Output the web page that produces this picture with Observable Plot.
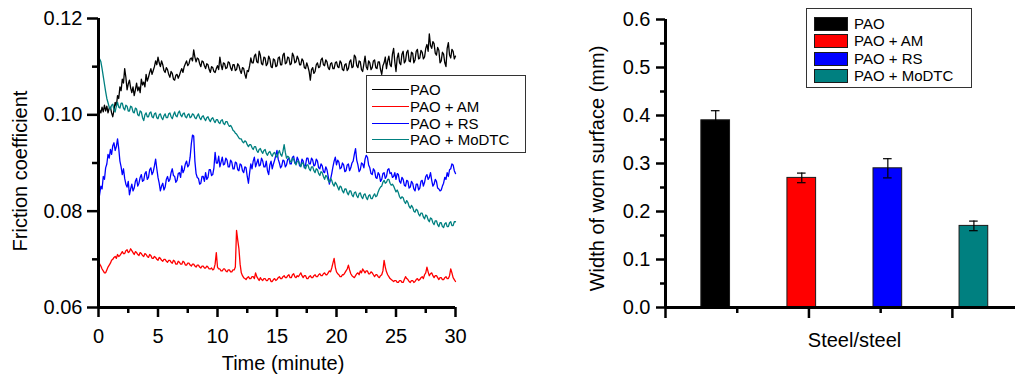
<!DOCTYPE html>
<html><head><meta charset="utf-8">
<script src="https://cdn.jsdelivr.net/npm/d3@7"></script>
<script src="https://cdn.jsdelivr.net/npm/@observablehq/plot@0.6"></script>
<style>
body{margin:0;background:#fff;font-family:"Liberation Sans",Arial,sans-serif;}
#wrap{position:relative;width:1015px;height:377px;overflow:hidden;background:#fff;}
#left{position:absolute;left:0;top:0;}
#right{position:absolute;left:540px;top:0;}
.legend{position:absolute;background:#fff;border:1px solid #333;box-sizing:border-box;font-size:15px;color:#000;line-height:1;}
.row{position:absolute;left:0;height:17px;display:flex;align-items:center;white-space:nowrap;}
</style></head>
<body><div id="wrap"><div id="left"></div><div id="right"></div></div>
<script>
// ---- data ----
const seriesNames = ["PAO", "PAO + AM", "PAO + RS", "PAO + MoDTC"];
const seriesColors = ["#000000", "#ff0000", "#0000ff", "#008080"];
const sampleStep = 0.1; // minutes between readings

const pao = [
0.0999,0.1010,0.1004,0.1016,0.1006,0.1020,0.1008,0.1018,0.1004,0.1014,
0.1016,0.1004,0.0996,0.1010,0.1026,0.1018,0.1040,0.1034,0.1058,0.1050,
0.1074,0.1066,0.1096,0.1078,0.1052,0.1064,0.1072,0.1056,0.1046,0.1058,
0.1040,0.1052,0.1066,0.1050,0.1058,0.1046,0.1074,0.1062,0.1068,0.1058,
0.1084,0.1070,0.1078,0.1088,0.1096,0.1084,0.1092,0.1100,0.1112,0.1104,
0.1120,0.1108,0.1100,0.1112,0.1104,0.1092,0.1088,0.1098,0.1094,0.1084,
0.1078,0.1090,0.1086,0.1074,0.1072,0.1082,0.1084,0.1076,0.1082,0.1090,
0.1096,0.1088,0.1100,0.1106,0.1112,0.1102,0.1106,0.1116,0.1118,0.1112,
0.1135,0.1120,0.1110,0.1118,0.1116,0.1106,0.1100,0.1112,0.1110,0.1102,
0.1096,0.1106,0.1104,0.1094,0.1088,0.1100,0.1098,0.1090,0.1088,0.1096,
0.1102,0.1094,0.1120,0.1104,0.1094,0.1108,0.1106,0.1096,0.1098,0.1110,
0.1108,0.1098,0.1092,0.1104,0.1104,0.1092,0.1094,0.1106,0.1102,0.1092,
0.1086,0.1098,0.1096,0.1084,0.1076,0.1092,0.1090,0.1102,0.1118,0.1108,
0.1108,0.1122,0.1126,0.1110,0.1108,0.1132,0.1124,0.1106,0.1104,0.1120,
0.1118,0.1102,0.1106,0.1122,0.1116,0.1100,0.1098,0.1116,0.1114,0.1100,
0.1102,0.1118,0.1120,0.1104,0.1104,0.1124,0.1128,0.1106,0.1108,0.1120,
0.1118,0.1104,0.1106,0.1128,0.1122,0.1108,0.1110,0.1122,0.1116,0.1104,
0.1104,0.1116,0.1112,0.1098,0.1096,0.1108,0.1100,0.1090,0.1072,0.1094,
0.1098,0.1086,0.1090,0.1104,0.1108,0.1098,0.1100,0.1114,0.1118,0.1104,
0.1102,0.1114,0.1110,0.1098,0.1094,0.1106,0.1108,0.1096,0.1096,0.1108,
0.1110,0.1100,0.1098,0.1112,0.1108,0.1094,0.1092,0.1104,0.1106,0.1092,
0.1096,0.1110,0.1114,0.1098,0.1100,0.1124,0.1120,0.1102,0.1098,0.1112,
0.1110,0.1094,0.1090,0.1106,0.1122,0.1100,0.1094,0.1112,0.1108,0.1094,
0.1098,0.1112,0.1114,0.1098,0.1096,0.1110,0.1110,0.1094,0.1084,0.1102,
0.1108,0.1120,0.1096,0.1112,0.1122,0.1104,0.1100,0.1126,0.1138,0.1110,
0.1090,0.1118,0.1128,0.1108,0.1104,0.1126,0.1132,0.1108,0.1112,0.1130,
0.1134,0.1112,0.1110,0.1130,0.1128,0.1108,0.1114,0.1132,0.1136,0.1116,
0.1118,0.1134,0.1130,0.1116,0.1120,0.1138,0.1146,0.1132,0.1168,0.1144,
0.1138,0.1152,0.1148,0.1128,0.1124,0.1140,0.1134,0.1108,0.1112,0.1130,
0.1126,0.1108,0.1100,0.1138,0.1150,0.1124,0.1118,0.1136,0.1132,0.1116,
0.1122];

const paoAM = [
0.0696,0.0690,0.0686,0.0680,0.0676,0.0672,0.0672,0.0678,0.0684,0.0688,
0.0692,0.0698,0.0700,0.0704,0.0706,0.0702,0.0710,0.0706,0.0708,0.0712,
0.0716,0.0712,0.0712,0.0718,0.0720,0.0714,0.0716,0.0722,0.0718,0.0714,
0.0710,0.0716,0.0714,0.0710,0.0708,0.0714,0.0712,0.0708,0.0706,0.0712,
0.0710,0.0706,0.0704,0.0710,0.0708,0.0702,0.0702,0.0706,0.0704,0.0700,
0.0698,0.0704,0.0702,0.0698,0.0696,0.0700,0.0700,0.0696,0.0694,0.0698,
0.0698,0.0694,0.0692,0.0698,0.0696,0.0690,0.0690,0.0696,0.0694,0.0690,
0.0690,0.0696,0.0694,0.0688,0.0688,0.0692,0.0692,0.0688,0.0686,0.0690,
0.0690,0.0686,0.0684,0.0688,0.0688,0.0684,0.0682,0.0686,0.0686,0.0682,
0.0682,0.0686,0.0684,0.0680,0.0680,0.0682,0.0678,0.0680,0.0690,0.0714,
0.0684,0.0680,0.0680,0.0676,0.0676,0.0680,0.0680,0.0676,0.0674,0.0678,
0.0678,0.0674,0.0674,0.0678,0.0678,0.0684,0.0760,0.0740,0.0722,0.0690,
0.0672,0.0666,0.0662,0.0660,0.0658,0.0662,0.0664,0.0660,0.0660,0.0664,
0.0664,0.0660,0.0672,0.0664,0.0660,0.0656,0.0662,0.0658,0.0656,0.0660,
0.0660,0.0656,0.0656,0.0660,0.0660,0.0654,0.0654,0.0658,0.0660,0.0656,
0.0658,0.0662,0.0664,0.0660,0.0660,0.0664,0.0666,0.0662,0.0662,0.0666,
0.0668,0.0662,0.0662,0.0668,0.0670,0.0664,0.0662,0.0666,0.0664,0.0668,
0.0672,0.0666,0.0662,0.0666,0.0666,0.0660,0.0660,0.0664,0.0666,0.0662,
0.0662,0.0666,0.0668,0.0664,0.0664,0.0668,0.0670,0.0666,0.0666,0.0670,
0.0672,0.0668,0.0668,0.0672,0.0676,0.0674,0.0682,0.0692,0.0702,0.0684,
0.0674,0.0670,0.0668,0.0664,0.0664,0.0668,0.0668,0.0672,0.0676,0.0680,
0.0688,0.0678,0.0670,0.0666,0.0664,0.0662,0.0666,0.0670,0.0672,0.0668,
0.0676,0.0672,0.0680,0.0676,0.0672,0.0676,0.0676,0.0670,0.0670,0.0674,
0.0672,0.0668,0.0664,0.0668,0.0668,0.0664,0.0662,0.0666,0.0668,0.0676,
0.0698,0.0684,0.0674,0.0668,0.0664,0.0660,0.0658,0.0656,0.0654,0.0656,
0.0656,0.0652,0.0652,0.0656,0.0656,0.0652,0.0652,0.0658,0.0664,0.0660,
0.0658,0.0654,0.0652,0.0656,0.0656,0.0652,0.0654,0.0658,0.0660,0.0656,
0.0658,0.0662,0.0664,0.0660,0.0668,0.0672,0.0684,0.0674,0.0666,0.0670,
0.0672,0.0666,0.0662,0.0666,0.0666,0.0662,0.0658,0.0662,0.0662,0.0658,
0.0658,0.0662,0.0664,0.0660,0.0660,0.0666,0.0680,0.0672,0.0662,0.0658,
0.0654];

const paoRS = [
0.0818,0.0836,0.0852,0.0846,0.0872,0.0866,0.0890,0.0898,0.0918,0.0910,
0.0928,0.0918,0.0936,0.0942,0.0926,0.0934,0.0950,0.0930,0.0904,0.0892,
0.0876,0.0888,0.0868,0.0856,0.0850,0.0862,0.0834,0.0846,0.0856,0.0842,
0.0848,0.0862,0.0868,0.0852,0.0858,0.0870,0.0876,0.0862,0.0864,0.0878,
0.0882,0.0866,0.0870,0.0886,0.0890,0.0876,0.0882,0.0894,0.0908,0.0888,
0.0870,0.0858,0.0842,0.0852,0.0858,0.0844,0.0850,0.0866,0.0872,0.0862,
0.0866,0.0880,0.0888,0.0874,0.0872,0.0860,0.0864,0.0878,0.0880,0.0870,
0.0894,0.0880,0.0886,0.0898,0.0904,0.0892,0.0896,0.0912,0.0940,0.0958,
0.0956,0.0904,0.0878,0.0870,0.0868,0.0856,0.0858,0.0872,0.0872,0.0862,
0.0880,0.0866,0.0870,0.0886,0.0886,0.0874,0.0876,0.0890,0.0922,0.0900,
0.0900,0.0914,0.0892,0.0902,0.0912,0.0896,0.0898,0.0910,0.0906,0.0892,
0.0892,0.0906,0.0902,0.0888,0.0888,0.0902,0.0900,0.0886,0.0884,0.0898,
0.0896,0.0884,0.0880,0.0892,0.0890,0.0872,0.0858,0.0880,0.0898,0.0888,
0.0904,0.0912,0.0892,0.0900,0.0908,0.0894,0.0896,0.0910,0.0904,0.0892,
0.0892,0.0904,0.0884,0.0876,0.0896,0.0904,0.0888,0.0898,0.0906,0.0916,
0.0926,0.0908,0.0900,0.0890,0.0894,0.0906,0.0904,0.0892,0.0896,0.0908,
0.0910,0.0898,0.0898,0.0912,0.0914,0.0900,0.0900,0.0912,0.0906,0.0894,
0.0894,0.0908,0.0904,0.0890,0.0896,0.0910,0.0910,0.0898,0.0898,0.0910,
0.0906,0.0894,0.0896,0.0908,0.0904,0.0890,0.0888,0.0898,0.0894,0.0882,
0.0880,0.0892,0.0886,0.0872,0.0856,0.0866,0.0878,0.0892,0.0904,0.0912,
0.0896,0.0906,0.0902,0.0888,0.0890,0.0900,0.0896,0.0882,0.0884,0.0896,
0.0898,0.0884,0.0890,0.0900,0.0904,0.0918,0.0930,0.0906,0.0896,0.0882,
0.0886,0.0900,0.0898,0.0890,0.0908,0.0916,0.0912,0.0896,0.0890,0.0878,
0.0876,0.0888,0.0884,0.0870,0.0868,0.0880,0.0876,0.0862,0.0866,0.0878,
0.0880,0.0868,0.0872,0.0886,0.0888,0.0878,0.0880,0.0870,0.0872,0.0880,
0.0866,0.0878,0.0876,0.0862,0.0858,0.0870,0.0866,0.0854,0.0852,0.0864,
0.0862,0.0848,0.0850,0.0862,0.0858,0.0846,0.0842,0.0856,0.0856,0.0844,
0.0848,0.0862,0.0864,0.0852,0.0860,0.0872,0.0876,0.0866,0.0870,0.0880,
0.0864,0.0852,0.0856,0.0866,0.0862,0.0848,0.0846,0.0842,0.0844,0.0852,
0.0858,0.0870,0.0866,0.0880,0.0872,0.0886,0.0888,0.0898,0.0896,0.0884,
0.0878];

const paoMoDTC = [
0.1112,0.1116,0.1110,0.1096,0.1080,0.1064,0.1048,0.1034,0.1025,0.1016,
0.1012,0.1020,0.1022,0.1010,0.1006,0.1018,0.1026,0.1016,0.1014,0.1024,
0.1024,0.1014,0.1010,0.1020,0.1018,0.1008,0.1008,0.1018,0.1016,0.1006,
0.1004,0.1014,0.1012,0.1000,0.0998,0.1008,0.1006,0.0994,0.0988,0.1000,
0.1004,0.0996,0.0996,0.1004,0.1006,0.0996,0.0994,0.1002,0.1004,0.0994,
0.0992,0.1000,0.1002,0.0994,0.0990,0.0998,0.1002,0.0994,0.0994,0.1002,
0.1004,0.0996,0.0992,0.1000,0.1006,0.0998,0.0996,0.1004,0.1008,0.1000,
0.0996,0.1002,0.1004,0.0996,0.0994,0.1000,0.1002,0.0994,0.0996,0.1002,
0.1000,0.0994,0.0992,0.0998,0.1002,0.0994,0.0990,0.0996,0.0998,0.0992,
0.0988,0.0994,0.0996,0.0990,0.0986,0.0992,0.0994,0.0988,0.0984,0.0990,
0.0990,0.0984,0.0982,0.0988,0.0990,0.0982,0.0980,0.0986,0.0986,0.0980,
0.0976,0.0978,0.0974,0.0968,0.0966,0.0962,0.0960,0.0956,0.0952,0.0950,
0.0950,0.0944,0.0942,0.0946,0.0944,0.0938,0.0934,0.0938,0.0938,0.0932,
0.0928,0.0934,0.0934,0.0926,0.0922,0.0928,0.0930,0.0924,0.0920,0.0926,
0.0928,0.0920,0.0916,0.0922,0.0924,0.0918,0.0914,0.0920,0.0922,0.0916,
0.0912,0.0920,0.0926,0.0918,0.0914,0.0924,0.0938,0.0922,0.0910,0.0914,
0.0912,0.0904,0.0902,0.0910,0.0908,0.0900,0.0896,0.0904,0.0904,0.0898,
0.0892,0.0900,0.0900,0.0892,0.0888,0.0896,0.0896,0.0888,0.0884,0.0892,
0.0892,0.0884,0.0880,0.0888,0.0886,0.0878,0.0874,0.0882,0.0880,0.0872,
0.0866,0.0874,0.0872,0.0864,0.0860,0.0868,0.0864,0.0856,0.0852,0.0860,
0.0856,0.0850,0.0844,0.0852,0.0850,0.0842,0.0838,0.0846,0.0846,0.0838,
0.0834,0.0842,0.0842,0.0834,0.0830,0.0838,0.0840,0.0832,0.0828,0.0836,
0.0838,0.0830,0.0826,0.0834,0.0836,0.0828,0.0824,0.0832,0.0834,0.0826,
0.0826,0.0832,0.0836,0.0830,0.0832,0.0840,0.0846,0.0850,0.0852,0.0860,
0.0864,0.0858,0.0860,0.0866,0.0866,0.0858,0.0854,0.0856,0.0852,0.0846,
0.0840,0.0844,0.0838,0.0830,0.0826,0.0830,0.0828,0.0820,0.0816,0.0822,
0.0818,0.0810,0.0806,0.0812,0.0808,0.0800,0.0798,0.0804,0.0802,0.0794,
0.0790,0.0796,0.0796,0.0788,0.0784,0.0792,0.0790,0.0782,0.0778,0.0786,
0.0784,0.0776,0.0772,0.0780,0.0780,0.0772,0.0768,0.0776,0.0776,0.0768,
0.0766,0.0774,0.0776,0.0768,0.0768,0.0776,0.0778,0.0770,0.0770,0.0778,
0.0778];

const wornWidth = [0.39, 0.27, 0.29, 0.17];   // mm
const wornError = [0.02, 0.01, 0.02, 0.01];   // mm

const frictionTicks = [0.06, 0.08, 0.10, 0.12];
const frictionMinorTicks = [0.07, 0.09, 0.11];
const timeTicks = [0, 5, 10, 15, 20, 25, 30];
const timeMinorTicks = [2.5, 7.5, 12.5, 17.5, 22.5, 27.5];
const widthTicks = [0, 0.1, 0.2, 0.3, 0.4, 0.5, 0.6];
const widthMinorTicks = [0.05, 0.15, 0.25, 0.35, 0.45, 0.55];

// ---- build tables ----
const seriesValues = [pao, paoAM, paoRS, paoMoDTC];
const frictionRows = [];
seriesNames.forEach((name, k) => seriesValues[k].forEach((v, i) =>
  frictionRows.push({series: name, t: +(i * sampleStep).toFixed(2), v})));

// bar layout (Origin-like axis units)
const barStart = 0.35, barStep = 0.6, barHalf = 0.1, capHalf = 0.03;
const bars = seriesNames.map((name, i) => ({name, c: barStart + barStep * i, v: wornWidth[i], e: wornError[i]}));

const font = "'Liberation Sans', Arial, sans-serif";
const color = {domain: seriesNames, range: seriesColors};

// ---- left chart ----
const leftPlot = Plot.plot({
  width: 540, height: 377,
  marginLeft: 98, marginRight: 85, marginTop: 18, marginBottom: 70,
  style: {fontFamily: font, fontSize: "20px", color: "#000", background: "transparent", overflow: "visible"},
  x: {domain: [0, 30]},
  y: {domain: [0.06, 0.12]},
  color,
  marks: [
    Plot.line(frictionRows, {x: "t", y: "v", z: "series", stroke: "series", strokeWidth: 1.3}),
    Plot.axisX({ticks: timeTicks, tickSize: 10, tickPadding: 11, strokeWidth: 2.5, tickFormat: d => String(d), label: null}),
    Plot.axisX({ticks: timeMinorTicks, tickSize: 6, strokeWidth: 2.5, text: null, label: null}),
    Plot.axisY({ticks: frictionTicks, tickSize: 11, tickPadding: 5, strokeWidth: 2.5, tickFormat: d3.format(".2f"), label: null}),
    Plot.axisY({ticks: frictionMinorTicks, tickSize: 6, strokeWidth: 2.5, text: null, label: null}),
    Plot.ruleX([0], {strokeWidth: 3}),
    Plot.ruleY([0.06], {strokeWidth: 3}),
    Plot.text(["Time (minute)"], {text: d => d, frameAnchor: "bottom", lineAnchor: "middle", textAnchor: "middle", dx: 6, dy: 56}),
    Plot.text(["Friction coefficient"], {text: d => d, frameAnchor: "left", textAnchor: "middle", lineAnchor: "middle", rotate: -90, dx: -78, dy: 8})
  ]
});
document.getElementById("left").appendChild(leftPlot);

// ---- right chart ----
const rightPlot = Plot.plot({
  width: 475, height: 377,
  marginLeft: 125, marginRight: 0, marginTop: 19, marginBottom: 70,
  style: {fontFamily: font, fontSize: "20px", color: "#000", background: "transparent", overflow: "visible"},
  x: {domain: [0, 2.44]},
  y: {domain: [0, 0.6]},
  color,
  marks: [
    Plot.rect(bars, {x1: d => d.c - barHalf, x2: d => d.c + barHalf, y1: 0, y2: "v", fill: "name", stroke: "#1a1a1a", strokeWidth: 1}),
    Plot.ruleX(bars, {x: "c", y1: d => d.v - d.e, y2: d => d.v + d.e, strokeWidth: 1.2}),
    Plot.ruleY(bars, {y: d => d.v + d.e, x1: d => d.c - capHalf, x2: d => d.c + capHalf, strokeWidth: 1.2}),
    Plot.ruleY(bars, {y: d => d.v - d.e, x1: d => d.c - capHalf, x2: d => d.c + capHalf, strokeWidth: 1.2}),
    Plot.axisX({ticks: [0, 1, 2], tickSize: 11, strokeWidth: 2.5, text: null, label: null}),
    Plot.axisX({ticks: [0.5, 1.5], tickSize: 6, strokeWidth: 2.5, text: null, label: null}),
    Plot.axisY({ticks: widthTicks, tickSize: 9, tickPadding: 6, strokeWidth: 2.5, tickFormat: d3.format(".1f"), label: null}),
    Plot.axisY({ticks: widthMinorTicks, tickSize: 5, strokeWidth: 2.5, text: null, label: null}),
    Plot.ruleX([0], {strokeWidth: 3}),
    Plot.ruleY([0], {strokeWidth: 3}),
    Plot.text(["Steel/steel"], {text: d => d, frameAnchor: "bottom", lineAnchor: "middle", textAnchor: "middle", dx: 14, dy: 33}),
    Plot.text(["Width of worn surface (mm)"], {text: d => d, frameAnchor: "left", textAnchor: "middle", lineAnchor: "middle", rotate: -90, dx: -68, dy: 5})
  ]
});
document.getElementById("right").appendChild(rightPlot);

// ---- legends ----
const wrap = document.getElementById("wrap");
function makeLegend(box, rowYs, swatch) {
  const lg = document.createElement("div");
  lg.className = "legend";
  Object.assign(lg.style, {left: box.x + "px", top: box.y + "px", width: box.w + "px", height: box.h + "px"});
  seriesNames.forEach((name, i) => {
    const r = document.createElement("div");
    r.className = "row";
    r.style.top = Math.round(rowYs[i] - 8.5) + "px";
    r.style.left = swatch.left + "px";
    const s = document.createElement("div");
    if (swatch.type === "line") {
      Object.assign(s.style, {width: swatch.w + "px", height: "1px", background: seriesColors[i], marginRight: swatch.gap + "px"});
    } else {
      Object.assign(s.style, {width: swatch.w + "px", height: swatch.h + "px", background: seriesColors[i], border: "1px solid #1a1a1a", boxSizing: "border-box", marginRight: swatch.gap + "px"});
    }
    const t = document.createElement("span");
    t.textContent = name;
    r.appendChild(s); r.appendChild(t);
    lg.appendChild(r);
  });
  wrap.appendChild(lg);
}
makeLegend({x: 366, y: 75, w: 160, h: 78}, [13, 30, 47, 63.5], {type: "line", left: 5, w: 37, gap: 1});
makeLegend({x: 806, y: 8, w: 166, h: 80}, [14, 31.5, 49, 66.5], {type: "rect", left: 7, w: 34, h: 14, gap: 6});
</script>
</body></html>
